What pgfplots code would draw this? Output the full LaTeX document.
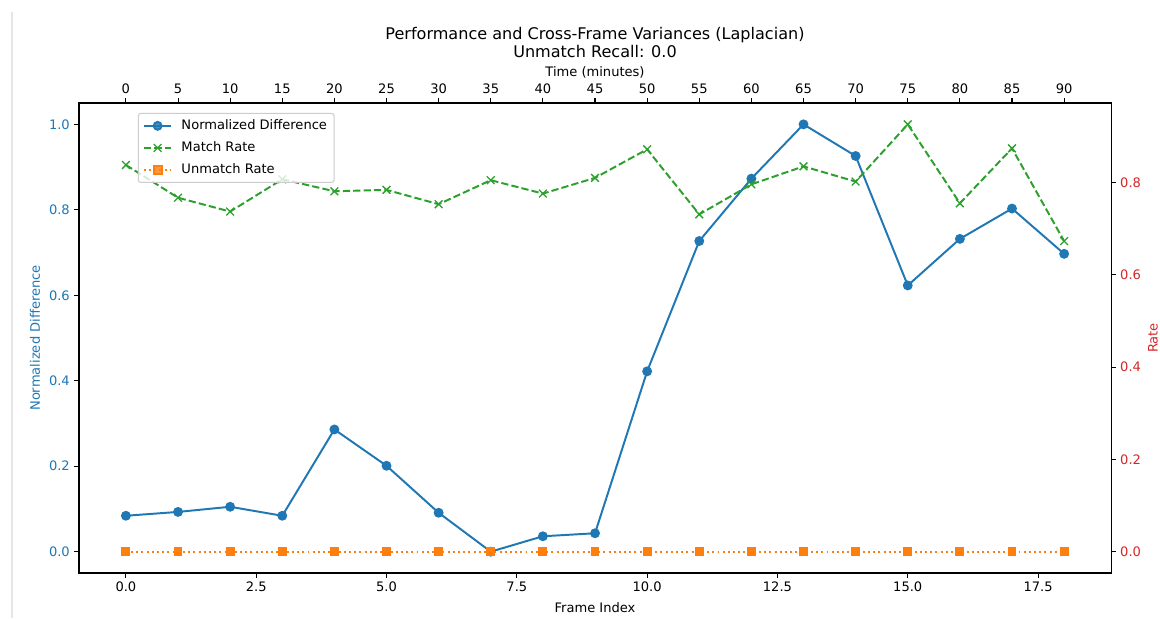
\documentclass[border=0pt]{standalone}
\usepackage{fontspec}
\setmainfont{DejaVu Sans}
\usepackage{pgfplots}
\pgfplotsset{compat=1.18}
\definecolor{tabblue}{HTML}{1F77B4}
\definecolor{taborange}{HTML}{FF7F0E}
\definecolor{tabgreen}{HTML}{2CA02C}
\definecolor{tabred}{HTML}{D62728}
\definecolor{legedge}{HTML}{CCCCCC}

\pgfplotsset{
  common/.style={
    scale only axis, width=790.5pt, height=360pt,
    at={(0pt,0pt)}, anchor=south west,
    xmin=-0.9, xmax=18.9,
    tick align=outside, major tick length=3.5pt,
    every tick/.style={black, line width=0.8pt},
    axis line style={line width=0.8pt},
    ticklabel style={font=\fontsize{10}{12}\selectfont},
    label style={font=\fontsize{10}{12}\selectfont},
    /pgf/number format/.cd, fixed, fixed zerofill, precision=1, assume math mode=true,
  },
  legend image code/.code={\draw[mark repeat=2,mark phase=2] plot coordinates {(0cm,0cm) (0.37cm,0cm) (0.74cm,0cm)};},
}

\pgfplotstableread{
x nd
0 0.084
1 0.093
2 0.105
3 0.084
4 0.286
5 0.201
6 0.091
7 0.000
8 0.036
9 0.043
10 0.422
11 0.727
12 0.873
13 1.000
14 0.926
15 0.623
16 0.732
17 0.803
18 0.697
}\nd

\pgfplotstableread{
x match unmatch
0 0.838 0
1 0.767 0
2 0.737 0
3 0.807 0
4 0.781 0
5 0.784 0
6 0.753 0
7 0.805 0
8 0.776 0
9 0.810 0
10 0.872 0
11 0.731 0
12 0.796 0
13 0.835 0
14 0.802 0
15 0.926 0
16 0.755 0
17 0.874 0
18 0.673 0
}\rates

\begin{document}
\begin{tikzpicture}
\useasboundingbox (-60.5pt,-34.5pt) rectangle (828.0pt,438.9pt);
\draw[color=black!10, line width=1.5pt] (-51.3pt,429.7pt) -- (-51.3pt,-34.5pt);

% main axis: left y
\begin{axis}[common,
  ymin=-0.05, ymax=1.05,
  xtick={0,2.5,5,7.5,10,12.5,15,17.5},
  ytick={0,0.2,0.4,0.6,0.8,1.0},
  xtick pos=left, ytick pos=left,
  yticklabel style={text=tabblue},
  xlabel={Frame Index},
  ylabel={Normalized Difference},
  ylabel style={text=tabblue, at={(axis description cs:-0.0426,0.5)}, anchor=center},
  xlabel style={at={(axis description cs:0.5,-0.0735)}, anchor=center},
]
\addplot[tabblue, line width=1.5pt, mark=*, mark size=3pt, mark options={solid, fill=tabblue, draw=tabblue}] table[x=x,y=nd] {\nd};
\end{axis}

% right axis
\begin{axis}[common,
  ymin=-0.0463, ymax=0.9723,
  axis x line=none, axis y line*=right,
  ytick={0,0.2,0.4,0.6,0.8},
  yticklabel style={text=tabred},
  ylabel={Rate},
  ylabel style={text=tabred, at={(axis description cs:1.0407,0.5)}, anchor=center, rotate=0},
]
\addplot[tabgreen, line width=1.5pt, dash pattern=on 5.55pt off 2.4pt, mark=x, mark size=4.2pt, mark options={solid, line width=1pt}] table[x=x,y=match] {\rates};
\addplot[taborange, line width=1.5pt, dash pattern=on 1.5pt off 2.475pt, mark=square*, mark size=3pt, mark options={solid, fill=taborange, draw=taborange, line width=0.8pt}] table[x=x,y=unmatch] {\rates};
\end{axis}

% top axis
\begin{axis}[common,
  ymin=0, ymax=1,
  axis y line=none, axis x line*=top,
  xtick={0,1,2,3,4,5,6,7,8,9,10,11,12,13,14,15,16,17,18},
  xticklabels={0,5,10,15,20,25,30,35,40,45,50,55,60,65,70,75,80,85,90},
  xlabel={Time (minutes)},
  xlabel style={at={(axis description cs:0.5,1.066)}, anchor=center},
  title={Performance and Cross-Frame Variances (Laplacian)\\Unmatch Recall: 0.0},
  title style={align=center, font=\fontsize{12.3}{13.2}\selectfont, at={(axis description cs:0.5,1.112)}, anchor=center},
  legend style={at={(0.057,0.979)}, anchor=north west, draw=legedge, rounded corners=2pt,
    fill=white, fill opacity=0.8, text opacity=1, font=\fontsize{10}{12}\selectfont,
    inner xsep=3.5pt, inner ysep=3pt, row sep=3.8pt, line width=0.8pt,
    /tikz/every odd column/.append style={column sep=5pt}},
  legend cell align=left,
]
\addlegendimage{tabblue, line width=1.5pt, mark=*, mark size=3pt, mark options={solid, fill=tabblue}}
\addlegendentry{Normalized Difference}
\addlegendimage{tabgreen, line width=1.5pt, dash pattern=on 5.55pt off 2.4pt, mark=x, mark size=4.2pt, mark options={solid, line width=1pt}}
\addlegendentry{Match Rate}
\addlegendimage{taborange, line width=1.5pt, dash pattern=on 1.5pt off 2.475pt, mark=square*, mark size=3pt, mark options={solid, fill=taborange}}
\addlegendentry{Unmatch Rate}
\end{axis}
\end{tikzpicture}
\end{document}
